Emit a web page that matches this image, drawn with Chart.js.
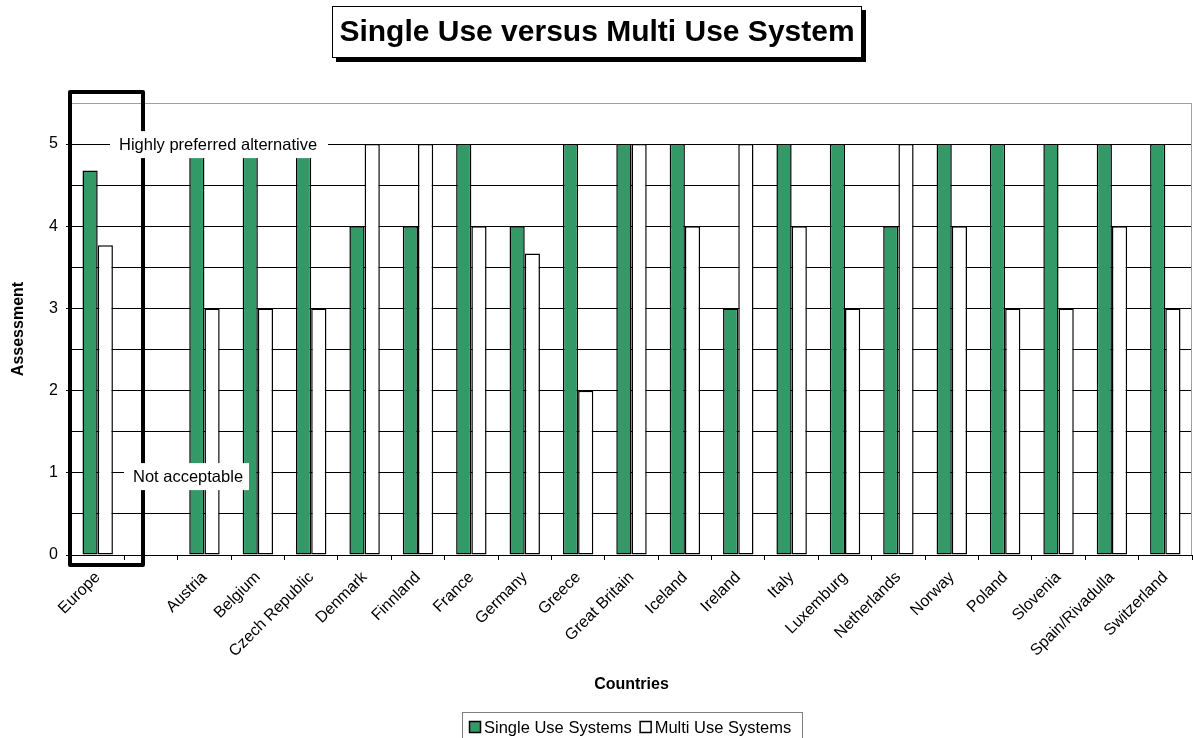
<!DOCTYPE html>
<html lang="en">
<head>
<meta charset="UTF-8">
<title>Single Use versus Multi Use System</title>
<script src="https://cdn.jsdelivr.net/npm/chart.js"></script>
<style>
    html, body { margin: 0; padding: 0; background: #fff; }
    #wrap { width: 1193px; height: 738px; position: relative; }
</style>
</head>
<body>
<div id="wrap"><canvas id="chart"></canvas></div>
<script>
    // assessment per country, 0 = not acceptable, 5 = highly preferred
    var countries = ['Europe', '', 'Austria', 'Belgium', 'Czech Republic', 'Denmark', 'Finnland', 'France',
        'Germany', 'Greece', 'Great Britain', 'Iceland', 'Ireland', 'Italy', 'Luxemburg', 'Netherlands',
        'Norway', 'Poland', 'Slovenia', 'Spain/Rivadulla', 'Switzerland'];
    var singleUse = [4.68, null, 5, 5, 5, 4, 4, 5, 4, 5, 5, 5, 3, 5, 5, 4, 5, 5, 5, 5, 5];
    var multiUse = [3.77, null, 3, 3, 3, 5, 5, 4, 3.67, 2, 5, 4, 5, 4, 3, 5, 4, 3, 3, 4, 3];
    var yLabels = [0, 1, 2, 3, 4, 5];

    var FONT = "'Liberation Sans', Arial, sans-serif";
    Chart.defaults.font.family = FONT;
    Chart.defaults.color = '#000';

    // frame round the Europe column and the two scale notes
    var notesPlugin = {
        id: 'notes',
        afterDatasetsDraw: function (chart) {
            var ctx = chart.ctx, a = chart.chartArea, y = chart.scales.y;
            ctx.save();
            // right border of the plot area
            ctx.strokeStyle = '#a0a0a0';
            ctx.lineWidth = 1;
            ctx.beginPath();
            ctx.moveTo(a.right - 0.5, a.top);
            ctx.lineTo(a.right - 0.5, a.bottom);
            ctx.stroke();

            ctx.strokeStyle = '#000';
            ctx.lineWidth = 4;
            ctx.lineJoin = 'round';
            ctx.strokeRect(a.left - 1, a.top - 11, 73, a.bottom - a.top + 21);

            ctx.font = '16.5px ' + FONT;
            ctx.textBaseline = 'middle';
            ctx.textAlign = 'left';
            var notes = [
                {text: 'Highly preferred alternative', x: a.left + 39, v: 5, w: 218},
                {text: 'Not acceptable', x: a.left + 53, v: 0.96, w: 125}
            ];
            notes.forEach(function (n) {
                var cy = y.getPixelForValue(n.v);
                ctx.fillStyle = '#fff';
                ctx.fillRect(n.x, cy - 13, n.w, 27);
                ctx.fillStyle = '#000';
                ctx.fillText(n.text, n.x + 9, cy + 1);
            });
            ctx.restore();
        },
        afterDraw: function (chart) {
            var ctx = chart.ctx;
            ctx.save();
            // title box with drop shadow
            var title = 'Single Use versus Multi Use System';
            var bx = 332, by = 6, bw = 530, bh = 52;
            ctx.fillStyle = '#000';
            ctx.fillRect(bx + 4, by + 4, bw, bh);
            ctx.fillStyle = '#fff';
            ctx.fillRect(bx, by, bw, bh);
            ctx.strokeStyle = '#000';
            ctx.lineWidth = 1;
            ctx.strokeRect(bx + 0.5, by + 0.5, bw - 1, bh - 1);
            ctx.fillStyle = '#000';
            ctx.font = 'bold 30px ' + FONT;
            ctx.textAlign = 'center';
            ctx.textBaseline = 'middle';
            ctx.fillText(title, bx + bw / 2, by + bh / 2 + 1);

            // legend
            ctx.font = '16.5px ' + FONT;
            ctx.textAlign = 'left';
            var ds = chart.data.datasets;
            var lx = 462, ly = 712;
            ctx.fillStyle = '#fff';
            ctx.fillRect(lx, ly, 340, 30);
            ctx.strokeStyle = '#808080';
            ctx.lineWidth = 1;
            ctx.strokeRect(lx + 0.5, ly + 0.5, 340, 30);
            var px = lx + 7;
            ds.forEach(function (d) {
                ctx.fillStyle = d.backgroundColor;
                ctx.fillRect(px + 0.5, ly + 9.5, 11, 11);
                ctx.strokeStyle = '#000';
                ctx.lineWidth = 1.5;
                ctx.strokeRect(px + 0.5, ly + 9.5, 11, 11);
                ctx.fillStyle = '#000';
                ctx.fillText(d.label, px + 15, ly + 16);
                px += 15 + ctx.measureText(d.label).width + 8;
            });
            ctx.restore();
        }
    };

    new Chart(document.getElementById('chart'), {
        type: 'bar',
        data: {
            labels: countries,
            datasets: [{
                label: 'Single Use Systems',
                data: singleUse,
                backgroundColor: '#339966',
                borderColor: '#000',
                borderWidth: 1.5,
                borderSkipped: false,
                categoryPercentage: 0.57,
                barPercentage: 1.0
            }, {
                label: 'Multi Use Systems',
                data: multiUse,
                backgroundColor: '#ffffff',
                borderColor: '#000',
                borderWidth: 1.5,
                borderSkipped: false,
                categoryPercentage: 0.57,
                barPercentage: 1.0
            }]
        },
        options: {
            responsive: true,
            maintainAspectRatio: false,
            animation: false,
            layout: {padding: {top: 103, right: 1, bottom: 0, left: 0}},
            plugins: {
                legend: {display: false},
                tooltip: {enabled: false}
            },
            scales: {
                x: {
                    grid: {
                        drawOnChartArea: false,
                        color: '#000',
                        tickLength: 5
                    },
                    border: {color: '#000', width: 1},
                    ticks: {
                        autoSkip: false,
                        minRotation: 45,
                        maxRotation: 45,
                        padding: 8,
                        font: {size: 16}
                    },
                    title: {
                        display: true,
                        text: 'Countries',
                        font: {size: 16, weight: 'bold'},
                        padding: {top: 0, bottom: 44}
                    },
                    afterFit: function (scale) { scale.height = 183; }
                },
                y: {
                    min: 0,
                    max: 5.5,
                    grid: {
                        color: function (c) { return c.tick && c.tick.value === 5.5 ? '#a0a0a0' : '#000'; },
                        tickColor: function (c) {
                            return c.tick && yLabels.indexOf(c.tick.value) >= 0 ? '#000' : 'rgba(0,0,0,0)';
                        },
                        tickLength: 5
                    },
                    border: {color: '#808080', width: 1},
                    ticks: {
                        stepSize: 0.5,
                        padding: 8,
                        font: {size: 16},
                        callback: function (v) { return yLabels.indexOf(v) >= 0 ? String(v) : ''; }
                    },
                    title: {
                        display: true,
                        text: 'Assessment',
                        font: {size: 16, weight: 'bold'},
                        padding: {top: 9, bottom: 0}
                    },
                    afterFit: function (scale) { scale.width = 71; }
                }
            }
        },
        plugins: [notesPlugin]
    });
</script>
</body>
</html>
